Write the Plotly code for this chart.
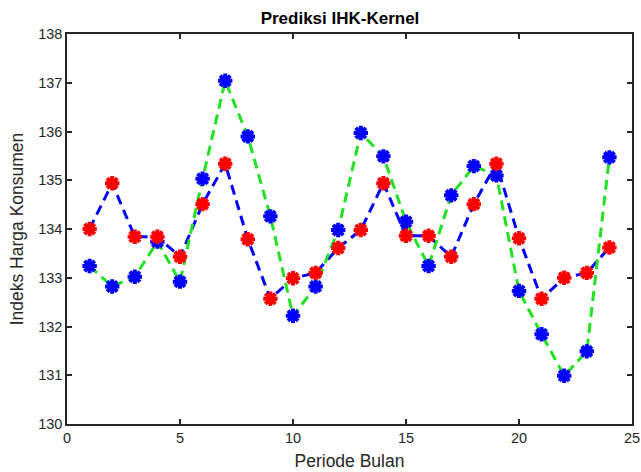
import plotly.graph_objects as go

periode = list(range(1, 25))
aktual = [134.0, 134.94, 133.84, 133.84, 133.43, 134.51, 135.34, 133.79, 132.57, 132.99,
          133.10, 133.61, 133.98, 134.94, 133.86, 133.86, 133.43, 134.51, 135.34, 133.81,
          132.57, 133.0, 133.10, 133.62]
prediksi = [133.24, 132.82, 133.02, 133.74, 132.92, 135.03, 137.04, 135.9, 134.26, 132.22,
            132.82, 133.98, 135.97, 135.49, 134.15, 133.24, 134.69, 135.29, 135.10, 132.73,
            131.84, 130.99, 131.49, 135.47]
x_ticks = [0, 5, 10, 15, 20, 25]
y_ticks = [130, 131, 132, 133, 134, 135, 136, 137, 138]

fig = go.Figure()
fig.add_trace(go.Scatter(x=periode, y=aktual, mode="lines",
                         line=dict(color="#0000ff", width=3, dash="10px,6px"), showlegend=False))
fig.add_trace(go.Scatter(x=periode, y=prediksi, mode="lines",
                         line=dict(color="#22e022", width=3, dash="10px,6px"), showlegend=False))
fig.add_trace(go.Scatter(x=periode, y=prediksi, mode="markers",
                         marker=dict(symbol="asterisk-open", size=12, color="#0000ff",
                                     line=dict(color="#0000ff", width=4)), showlegend=False))
fig.add_trace(go.Scatter(x=periode, y=aktual, mode="markers",
                         marker=dict(symbol="asterisk-open", size=12, color="#ff0000",
                                     line=dict(color="#ff0000", width=4)), showlegend=False))

font_fam = "Liberation Sans, Arial"
axis_common = dict(showgrid=False, zeroline=False, showline=True, linecolor="#262626",
                   linewidth=1.5, mirror="ticks", ticks="inside", ticklen=5,
                   tickcolor="#262626", tickwidth=1.5, automargin=False,
                   ticklabeloverflow="allow",
                   tickfont=dict(family=font_fam, size=14.5, color="#262626"))

fig.update_layout(
    template="none",
    width=641, height=472,
    margin=dict(l=67, r=9, t=34, b=48, autoexpand=False),
    paper_bgcolor="white", plot_bgcolor="white",
    title=dict(text="<b>Prediksi IHK-Kernel</b>", xref="container", x=340 / 641,
               xanchor="center", yref="container", y=1 - 18 / 472, yanchor="middle",
               font=dict(family=font_fam, size=17, color="black")),
    xaxis=dict(range=[0, 25], tickvals=x_ticks,
               title=dict(text="Periode Bulan", standoff=10,
                          font=dict(family=font_fam, size=17.5, color="#262626")),
               **axis_common),
    yaxis=dict(range=[130, 138], tickvals=y_ticks,
               title=dict(text="Indeks Harga Konsumen", standoff=10,
                          font=dict(family=font_fam, size=17.5, color="#262626")),
               **axis_common),
)

fig.write_html("out.html", config={"displayModeBar": False},
               post_script="document.body.style.margin='0';document.body.style.overflow='hidden';")
